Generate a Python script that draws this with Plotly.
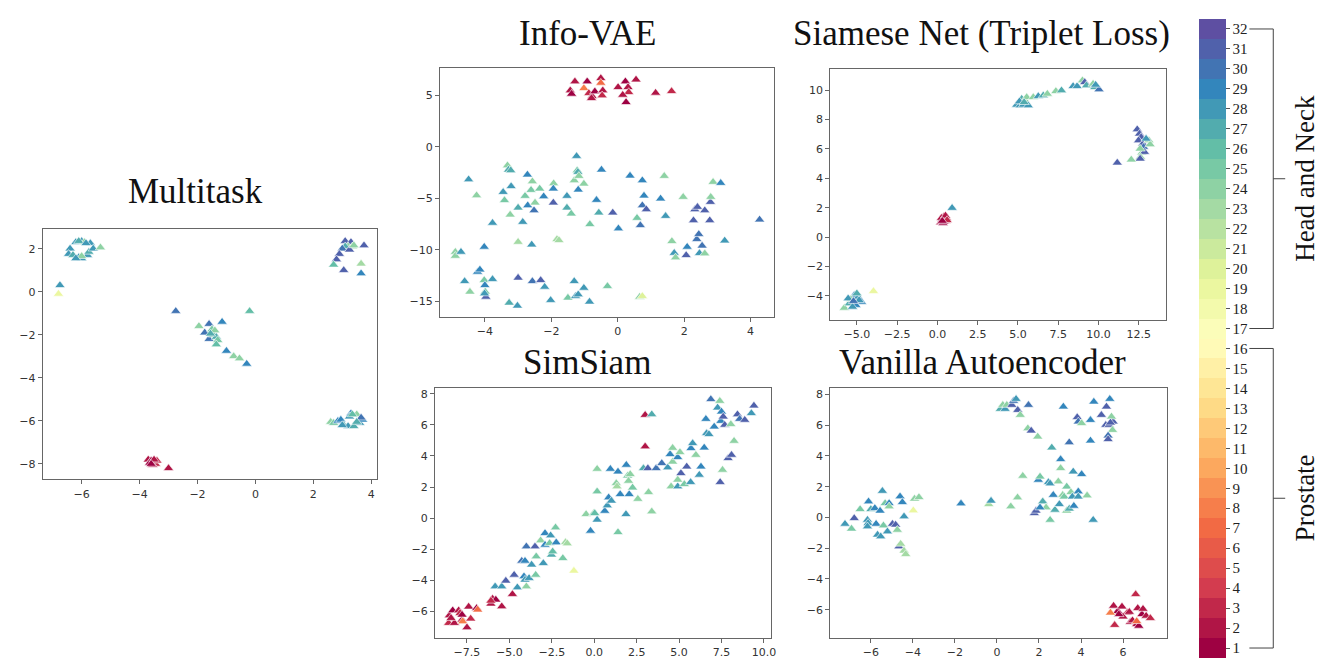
import plotly.graph_objects as go
import plotly.colors as pc

# ---------------- DATA ----------------
# Multitask
mt_x = [-6.2, -6.0, -5.9, -6.1, -5.7, -6.4, -6.45, -6.3, -6.1, -6.0, -5.8, -5.75, -5.6, -5.35, -6.0, -5.85, -6.2,
        -6.75, -6.8,
        -2.75, -0.2, -1.95, -1.6, -1.75, -1.15, -1.5, -1.6, -1.45, -1.35, -1.3, -1.35, -1.0, -0.75, -0.55, -0.3, -1.4, -1.55,
        3.1, 3.3, 3.2, 3.35, 3.1, 3.0, 3.25, 3.75, 2.9, 2.8, 2.7, 3.05, 3.65, 3.65, 3.4,
        2.6, 2.7, 2.85, 2.95, 3.05, 3.2, 3.3, 3.25, 3.5, 3.6, 3.7, 3.65, 3.4, 3.0, 3.5, 3.35,
        -3.7, -3.6, -3.5, -3.45, -3.55, -3.65, -3.4, -3.5, -3.6, -3.0]
mt_y = [2.3, 2.35, 2.3, 2.35, 2.25, 2.0, 1.75, 1.7, 1.6, 1.55, 1.7, 1.85, 2.0, 2.05, 1.65, 2.25, 1.55,
        0.3, -0.1,
        -0.9, -0.9, -1.6, -1.5, -1.9, -1.4, -1.75, -2.2, -2.0, -2.1, -2.25, -2.45, -2.75, -3.0, -3.1, -3.35, -1.8, -1.95,
        2.35, 2.3, 2.1, 2.1, 2.1, 2.0, 1.95, 2.15, 1.75, 1.5, 1.25, 1.0, 1.3, 0.85, 2.15,
        -6.05, -6.1, -6.0, -5.95, -6.2, -6.25, -5.65, -5.8, -5.7, -6.1, -5.95, -5.85, -6.25, -6.2, -6.05, -5.7,
        -7.8, -7.85, -7.9, -8.0, -8.05, -7.95, -7.85, -7.8, -8.0, -8.2]
mt_c = [28, 28, 24, 27, 28, 28, 28, 27, 28, 28, 28, 27, 28, 24, 24, 28, 28,
        28, 19,
        30, 26, 24, 30, 30, 29, 25, 30, 26, 27, 25, 26, 29, 24, 24, 29, 24, 27,
        31, 31, 24, 24, 27, 30, 31, 31, 31, 31, 26, 31, 23, 29, 24,
        24, 25, 29, 29, 27, 28, 29, 28, 24, 28, 29, 30, 27, 28, 27, 26,
        2, 1, 2, 3, 2, 1, 3, 2, 1, 2]

# Info-VAE
iv_x = [-1.02, -1.29, -0.92, -0.51, -0.51, -1.43, -1.39, -0.87, -0.77, -0.69, -0.45, -0.47, 0.01, 0.23, 0.31, 0.33,
        0.15, 0.25, 0.55, 1.14, 1.62, -0.79,
        -4.49, -3.32, -3.29, -3.22, -3.21, -3.45, -3.41, -4.25, -3.77, -3.24, -3.00, -2.79, -2.86, -2.72, -2.71, -2.57,
        -2.61, -2.52, -2.49, -2.35, -2.23, -1.93, -1.94, -1.94, -1.53, -1.53, -1.40, -1.24, -1.22, -1.20, -1.31, -1.17,
        -1.02, -1.19, -0.49, -0.84, -0.64, -0.57, -0.15, 0.02, 0.37, 0.58, 0.74, 0.79, 0.74, 0.86, 0.68, 1.40, 1.29,
        1.44, 1.97, 1.63, 1.70, 1.74, 2.09, 2.06, 2.28, 2.32, 2.40, 2.38, 2.44, 2.54, 2.46, 2.62, 2.62, 2.77, 2.79, 2.80,
        2.87, 3.10, 3.22, 4.27,
        -4.89, -4.89, -4.72, -4.61, -4.45, -4.22, -4.15, -4.02, -4.02, -4.00, -3.99, -3.97, -4.01, -3.77, -3.27, -3.02,
        -3.00, -3.00, -2.59, -2.57, -2.32, -2.20, -2.02, -1.83, -1.77, -1.50, -1.31, -1.27, -1.19, -1.02, -0.85, -0.31,
        0.66, 0.74]
iv_y = [5.71, 6.36, 6.36, 6.68, 6.23, 5.49, 5.16, 5.23, 4.94, 5.39, 5.49, 5.0, 5.81, 6.36, 5.81, 5.32,
        5.06, 4.35, 6.55, 5.26, 5.42, 4.74,
        -3.16, -1.80, -2.22, -2.28, -3.83, -4.39, -5.19, -4.71, -7.39, -6.59, -5.91, -4.77, -7.30, -2.70, -5.68, -3.35,
        -4.19, -6.17, -5.42, -4.06, -4.81, -3.54, -4.06, -5.42, -4.77, -5.91, -6.49, -0.89, -2.28, -2.44, -3.25, -2.83,
        -3.58, -4.16, -2.22, -7.52, -5.16, -6.39, -6.39, -7.94, -2.80, -6.91, -3.25, -4.74, -5.68, -6.07, -7.62, -2.83,
        -5.03, -6.72, -4.87, -9.17, -10.31, -10.76, -9.72, -10.53, -7.14, -6.07, -5.84, -8.97, -8.48, -9.61, -10.33,
        -6.17, -10.37, -7.14, -5.36, -4.87, -3.41, -3.51, -9.11, -7.07,
        -10.21, -10.60, -10.21, -13.06, -14.09, -12.15, -11.93, -9.72, -12.96, -13.45, -14.09, -14.58, -14.26, -12.86,
        -15.16, -15.45, -12.73, -9.24, -9.50, -13.06, -12.96, -13.61, -14.90, -8.98, -9.08, -14.67, -13.06, -14.51,
        -14.35, -13.71, -15.06, -13.54, -14.58, -14.51]
iv_c = [8, 2, 1, 2, 7, 2, 1, 3, 2, 1, 2, 3, 2, 1, 2, 3,
        2, 1, 2, 2, 3, 2,
        28, 24, 27, 27, 28, 28, 25, 24, 28, 24, 27, 25, 28, 29, 29, 24,
        25, 30, 24, 25, 29, 24, 29, 31, 28, 27, 25, 28, 25, 27, 24, 24,
        24, 29, 29, 25, 29, 27, 31, 29, 29, 25, 29, 29, 30, 31, 30, 24,
        29, 28, 24, 24, 28, 24, 29, 31, 31, 31, 31, 30, 30, 30, 28,
        31, 24, 31, 31, 24, 24, 29, 28, 30,
        24, 24, 28, 28, 24, 29, 29, 29, 25, 29, 25, 31, 28, 28,
        27, 28, 31, 23, 28, 30, 31, 28, 28, 23, 23, 25, 28, 28,
        28, 28, 28, 25, 24, 20]

# Siamese Net (Triplet Loss)
sn_x = [4.92, 5.13, 5.34, 5.44, 5.23, 5.54, 5.09, 5.64, 5.38, 5.95, 6.26, 6.57, 6.82, 7.35, 7.70, 8.42, 8.67, 9.00,
        9.14, 9.25, 9.66, 9.76, 10.03, 9.82,
        12.40, 12.54, 12.64, 12.48, 12.75, 12.79, 12.69, 12.85, 12.60, 12.58, 13.12, 13.20, 12.95, 11.16, 12.03, 12.58,
        0.2, 0.3, 0.4, 0.5, 0.35, 0.45, 0.55, 0.25, 0.4, 0.5, 0.6, 0.3,
        0.91, -3.97,
        -5.78, -5.47, -5.16, -5.37, -4.92, -4.71, -5.06, -5.27, -4.86, -5.0, -5.54, -5.21]
sn_y = [9.00, 8.96, 9.0, 9.30, 9.41, 9.52, 9.23, 8.96, 9.18, 9.52, 9.59, 9.64, 9.75, 9.93, 9.98, 10.27, 10.27, 10.66,
        10.54, 10.32, 10.43, 10.20, 10.05, 10.36,
        7.33, 7.03, 6.80, 6.58, 6.35, 6.13, 5.74, 5.79, 5.45, 5.33, 6.58, 6.31, 6.69, 5.06, 5.27, 6.01,
        1.0, 1.2, 1.4, 1.1, 0.95, 1.25, 1.3, 1.3, 1.05, 1.45, 1.15, 1.1,
        1.98, -3.68,
        -4.82, -4.52, -3.96, -4.23, -4.07, -4.41, -4.63, -4.75, -4.30, -3.84, -4.18, -4.36]
sn_c = [28, 28, 28, 24, 27, 24, 28, 28, 27, 24, 28, 27, 24, 24, 27, 28, 28, 24,
        31, 27, 24, 27, 30, 28,
        31, 31, 31, 31, 31, 30, 24, 31, 24, 31, 24, 24, 28, 31, 24, 24,
        2, 1, 3, 2, 1, 2, 3, 2, 1, 2, 3, 1,
        28, 19,
        24, 27, 29, 24, 28, 29, 29, 28, 28, 27, 28, 30]

# SimSiam
ss_x = [-8.54, -8.34, -8.58, -8.24, -7.99, -7.91, -7.79, -7.79, -7.75, -7.50, -7.28, -7.40, -6.93, -6.87, -6.09,
        -5.99, -5.80, -6.09, -5.45, -4.82, -8.44,
        -5.84, -5.45, -5.21, -4.72, -4.53, -4.27, -4.08, -4.14, -4.08, -3.84, -4.0, -4.0, -3.69, -3.49, -3.45, -3.42,
        -3.16, -3.0, -2.90, -2.90, -2.63, -2.57, -2.52, -2.45, -2.28, -2.24, -1.85, -1.69, -1.59, -1.20,
        -0.48, -0.03, 0.03, 0.17, -0.22, 0.17, 0.17, 0.62, 0.77, 0.85, 1.01, 0.95, 1.40, 1.30, 1.34, 1.40, 1.53, 1.89,
        1.97, 2.02, 2.12, 2.06, 1.87, 2.26, 2.57, 2.90, 3.0, 3.0, 3.39, 3.16, 3.2, 3.39, 3.65, 3.98, 4.33, 4.47, 4.53,
        4.62, 4.62, 4.92, 4.92, 4.92, 5.05, 5.11, 5.31, 5.45, 5.68, 5.70, 5.80, 5.99, 6.19, 6.29, 6.48, 6.58, 6.62,
        6.76, 6.87, 7.07, 7.27, 7.40, 7.46, 7.50, 7.60, 7.69, 7.56, 7.42, 7.89, 8.09, 8.05, 8.24, 8.44, 8.57, 8.87,
        9.26, 9.41]
ss_y = [-6.26, -5.94, -6.75, -6.75, -5.94, -6.11, -6.54, -6.22, -6.64, -7.03, -6.47, -5.70, -5.79, -5.89, -5.51,
        -5.19, -5.25, -5.32, -5.68, -4.89, -6.43,
        -4.40, -4.40, -4.03, -3.65, -4.46, -2.75, -2.75, -3.75, -3.97, -3.86, -4.40, -1.83, -3.0, -1.83, -3.65, -2.47,
        -1.44, -2.90, -0.97, -1.72, -1.61, -1.12, -2.36, -2.15, -0.61, -1.57, -2.58, -1.55, -1.63, -3.39,
        0.25, 0.31, 0.31, -0.11, -0.82, 1.71, 3.16, 0.46, 0.81, 1.32, 1.11, 3.16, -0.91, 2.24, 2.03, 2.99, 1.53, 3.42,
        2.73, 2.39, 2.82, 1.53, 0.25, 1.96, 1.23, 3.20, 6.63, 4.60, 6.67, 3.20, 1.66, 0.42, 3.20, 3.53, 3.25, 4.10, 2.03,
        3.62, 4.51, 3.91, 2.03, 2.46, 4.23, 2.88, 2.18, 3.31, 2.31, 4.49, 4.81, 4.06, 2.78, 3.31, 4.53, 6.37, 5.45,
        5.39, 7.64, 5.88, 7.10, 7.53, 6.24, 6.84, 6.52, 5.99, 3.10, 2.31, 3.85, 4.06, 6.03, 4.96, 6.67, 6.37, 6.31,
        6.74, 7.23]
ss_c = [2, 1, 3, 2, 2, 3, 2, 1, 8, 2, 3, 2, 1, 7, 2,
        2, 1, 3, 2, 2, 2,
        28, 28, 31, 31, 28, 30, 29, 29, 28, 28, 24, 30, 28, 31, 25, 25,
        24, 28, 29, 29, 25, 28, 27, 26, 25, 29, 25, 23, 23, 19,
        24, 24, 26, 28, 29, 25, 24, 29, 28, 29, 28, 29, 25, 24, 23, 29, 29, 29,
        25, 24, 24, 29, 28, 25, 24, 27, 2, 2, 27, 31, 24, 24, 30, 30, 28, 29, 24,
        24, 24, 29, 28, 24, 24, 31, 25, 31, 28, 29, 28, 24, 28, 29, 29, 29, 28,
        28, 30, 29, 28, 24, 29, 29, 31, 31, 24, 31, 31, 31, 24, 24, 31, 30, 31,
        28, 31]

# Vanilla Autoencoder
va_x = [-7.23, -6.92, -6.79, -6.51, -6.11, -6.16, -6.13, -6.16, -6.0, -5.81, -5.75, -5.68, -5.56, -5.53, -5.45,
        -5.40, -5.32, -5.21, -5.13, -5.13, -4.97, -4.82, -4.74, -4.66, -4.61, -4.58, -4.50, -4.42, -4.42, -4.34,
        -3.98, -3.92, -3.71,
        -1.71, -0.39, -0.28,
        0.16, 0.28, 0.39, 0.47, 0.71, 0.79, 0.91, 0.99, 1.11, 1.50, 1.47, 1.63, 1.94, 2.61, 3.16, 3.44, 3.03, 3.82,
        3.87, 4.03, 4.45, 4.45, 4.61, 4.97, 5.21, 5.37, 5.18, 5.34, 5.53, 5.45, 5.50, 5.29, 5.29, 5.40,
        1.23, 1.97, 2.05, 2.18, 2.34, 2.45, 2.53, 2.53, 1.78, 1.86, 2.05, 2.68, 2.76, 2.92, 2.97, 3.03, 3.13, 3.20,
        3.32, 3.32, 3.44, 3.52, 3.59, 3.63, 3.66, 3.87, 3.87, 4.03, 4.29, 4.58, 0.66, 0.98,
        5.55, 5.75, 5.95, 6.2, 6.0, 5.8, 6.35, 6.6, 6.7, 6.9, 7.1, 7.3, 6.65, 6.75, 6.3, 5.6, 5.4, 6.45, 6.65, 6.95]
va_y = [-0.42, -0.74, -0.05, 0.53, 1.03, -0.16, -0.37, -0.59, 0.53, 0.60, -0.42, -1.13, 0.43, -1.24, 1.72,
        -0.53, 0.92, -0.92, 0.92, 0.71, -0.42, -0.48, -0.81, -1.89, 1.36, -1.72, 0.99, 0.06, -2.17, -2.39,
        0.45, 1.21, 1.31,
        0.90, 0.86, 1.08,
        7.05, 7.31, 7.05, 7.31, 7.31, 7.57, 7.70, 6.98, 6.66, 7.31, 5.79, 5.64, 5.25, 4.54, 7.20, 4.88, 3.78, 6.51,
        6.23, 6.12, 6.33, 4.99, 7.52, 6.66, 7.20, 7.70, 6.01, 6.01, 6.23, 6.55, 5.68, 5.32, 5.08, 6.16,
        2.70, 2.44, 2.65, 1.03, 0.64, 2.29, 2.20, -0.16, 0.27, 0.43, 0.64, 1.46, 0.49, 2.33, 0.86, 3.20, 1.46, 1.35,
        2.0, 0.43, 0.56, 1.64, 1.35, 2.98, 0.75, 1.68, 1.35, 2.81, 1.42, -0.16, 0.71, 1.29,
        -5.75, -6.1, -5.8, -6.2, -6.45, -6.3, -6.8, -5.0, -5.9, -6.3, -6.4, -6.55, -6.95, -7.05, -6.15, -7.0, -6.2,
        -6.7, -6.75, -5.95]
va_c = [28, 25, 31, 25, 29, 28, 28, 28, 27, 29, 29, 28, 29, 28, 28,
        25, 25, 28, 29, 24, 31, 31, 24, 31, 29, 23, 29, 28, 23, 23,
        19, 24, 24,
        29, 23, 28,
        27, 24, 28, 24, 31, 30, 28, 31, 24, 30, 24, 31, 24, 27, 29, 30, 29, 31,
        30, 24, 29, 29, 29, 31, 31, 29, 31, 31, 31, 24, 24, 30, 31, 31,
        24, 29, 25, 27, 24, 28, 28, 25, 31, 31, 29, 29, 27, 24, 28, 24, 24, 25,
        25, 24, 27, 24, 28, 28, 29, 29, 28, 29, 24, 28, 24, 24,
        2, 1, 2, 3, 2, 1, 2, 3, 2, 1, 2, 3, 2, 1, 2, 3, 8, 2, 7, 2]

# Panels: title, data, axis ranges, tick values
titles = ["Multitask", "Info-VAE", "Siamese Net (Triplet Loss)", "SimSiam", "Vanilla Autoencoder"]
xticks = [[-6, -4, -2, 0, 2, 4], [-4, -2, 0, 2, 4], [-5, -2.5, 0, 2.5, 5, 7.5, 10, 12.5],
          [-7.5, -5, -2.5, 0, 2.5, 5, 7.5, 10], [-6, -4, -2, 0, 2, 4, 6]]
yticks = [[-8, -6, -4, -2, 0, 2], [-15, -10, -5, 0, 5], [-4, -2, 0, 2, 4, 6, 8, 10],
          [-6, -4, -2, 0, 2, 4, 6, 8], [-6, -4, -2, 0, 2, 4, 6, 8]]
class_ticks = list(range(1, 33))
group_labels = ["Head and Neck", "Prostate"]

# ---------------- LAYOUT ----------------
W, H = 1331, 658
def fx(p): return p / W
def fy(p): return 1 - p / H

panels = [
    dict(x=mt_x, y=mt_y, c=mt_c, box=(35, 371, 220, 471), xr=(-7.34, 4.21), yr=(-8.71, 2.93), fmt=".0f", title_xy=(188, 183)),
    dict(x=iv_x, y=iv_y, c=iv_c, box=(434, 769, 59, 308), xr=(-5.35, 4.69), yr=(-16.49, 7.69), fmt=".0f", title_xy=(582, 25)),
    dict(x=sn_x, y=sn_y, c=sn_c, box=(826, 1163, 60, 311), xr=(-6.65, 14.17), yr=(-5.61, 11.45), fmt=".1f", title_xy=(978, 25)),
    dict(x=ss_x, y=ss_y, c=ss_c, box=(429, 766, 380, 630), xr=(-9.38, 10.39), yr=(-7.71, 8.34), fmt=".1f", title_xy=(582, 354)),
    dict(x=va_x, y=va_y, c=va_c, box=(826, 1164, 380, 630), xr=(-7.93, 8.08), yr=(-7.84, 8.39), fmt=".0f", title_xy=(979, 354)),
]
yfmts = [".0f", ".0f", ".0f", ".0f", ".0f"]

# discrete Spectral colorscale, 32 bands
cols = pc.sample_colorscale("Spectral", [i / 31 for i in range(32)])
dscale = []
for i, c in enumerate(cols):
    dscale.append([i / 32, c])
    dscale.append([(i + 1) / 32, c])

fig = go.Figure()
layout = dict(width=W, height=H, margin=dict(l=0, r=0, t=0, b=0), paper_bgcolor="white",
              plot_bgcolor="white", showlegend=False)
annotations = []
shapes = []

for i, p in enumerate(panels):
    k = "" if i == 0 else str(i + 1)
    x0, x1, y0, y1 = p["box"]
    fig.add_trace(go.Scatter(
        x=p["x"], y=p["y"], mode="markers", xaxis="x" + k, yaxis="y" + k,
        marker=dict(symbol="triangle-up", size=9, color=p["c"], coloraxis="coloraxis",
                    line=dict(color="white", width=0.6)),
        hoverinfo="skip"))
    axcommon = dict(showgrid=False, zeroline=False, showline=True, mirror=True, linecolor="#666666",
                    linewidth=1.2, ticks="outside", ticklen=4, tickcolor="#666666", tickwidth=1,
                    tickfont=dict(family="DejaVu Sans", size=11, color="#333333"))
    layout["xaxis" + k] = dict(axcommon, domain=[fx(x0), fx(x1)], range=list(p["xr"]),
                               anchor="y" + k, tickvals=xticks[i], tickformat=p["fmt"])
    layout["yaxis" + k] = dict(axcommon, domain=[fy(y1), fy(y0)], range=list(p["yr"]),
                               anchor="x" + k, tickvals=yticks[i], tickformat=yfmts[i])
    tx, ty = p["title_xy"]
    annotations.append(dict(text=titles[i], x=fx(tx), y=fy(ty), xref="paper", yref="paper",
                            showarrow=False, xanchor="center", yanchor="middle",
                            font=dict(family="Liberation Serif", size=35, color="#111111")))

# colorbar
bar_top, bar_bot = 10, 650
layout["coloraxis"] = dict(
    colorscale=dscale, cmin=0.5, cmax=32.5,
    colorbar=dict(x=fx(1196), xanchor="left", y=fy((bar_top + bar_bot) / 2), yanchor="middle",
                  len=(bar_bot - bar_top) / H, lenmode="fraction", thickness=27, thicknessmode="pixels",
                  xpad=0, ypad=0, outlinewidth=0, ticks="outside", ticklen=4, tickcolor="#555555",
                  tickvals=class_ticks, ticktext=[str(v) for v in class_ticks],
                  tickfont=dict(family="Liberation Serif", size=15, color="#222222")))

# brackets
def band_y(k):
    return bar_bot - (k - 0.5) * (bar_bot - bar_top) / 32

lx0, lx1, lx2 = 1247, 1271, 1283
for (top_k, bot_k), label in zip([(32, 17), (16, 1)], group_labels):
    yt, yb = band_y(top_k), band_y(bot_k)
    ym = (yt + yb) / 2
    for (a, b, c, d) in [(lx0, yt, lx1, yt), (lx0, yb, lx1, yb), (lx1, yt, lx1, yb), (lx1, ym, lx2, ym)]:
        shapes.append(dict(type="line", xref="paper", yref="paper", x0=fx(a), y0=fy(b), x1=fx(c), y1=fy(d),
                           line=dict(color="#444444", width=1)))
    annotations.append(dict(text=label, x=fx(1303), y=fy(ym), xref="paper", yref="paper", showarrow=False,
                            textangle=-90, xanchor="center", yanchor="middle",
                            font=dict(family="Liberation Serif", size=27, color="#111111")))

layout["annotations"] = annotations
layout["shapes"] = shapes
fig.update_layout(**layout)
fig.write_html("out.html")
